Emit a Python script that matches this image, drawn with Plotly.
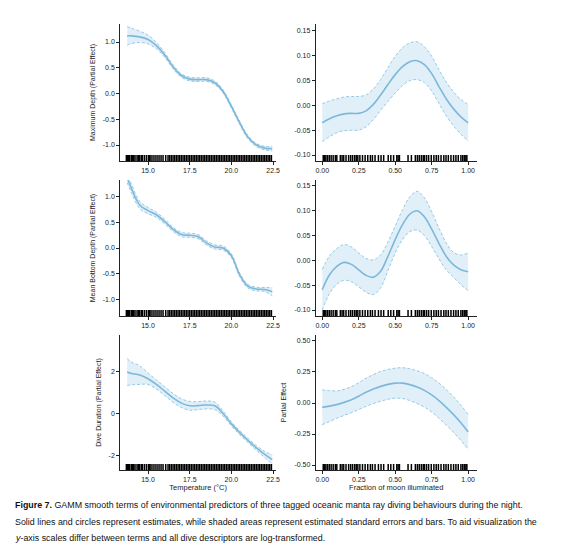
import plotly.graph_objects as go

# ---- data ----
temperature = [13.75, 14.0, 14.5, 15.0, 15.5, 16.0, 16.5, 17.0, 17.5, 18.0,
               18.5, 19.0, 19.5, 20.0, 20.5, 21.0, 21.5, 22.0, 22.45]

max_depth_temp_fit = [1.12, 1.12, 1.10, 1.05, 0.93, 0.75, 0.52, 0.35, 0.28, 0.27,
                      0.27, 0.21, 0.04, -0.25, -0.57, -0.85, -1.00, -1.06, -1.07]
max_depth_temp_se = [0.18, 0.15, 0.11, 0.085, 0.06, 0.045, 0.04, 0.035, 0.035, 0.035,
                     0.035, 0.035, 0.03, 0.03, 0.03, 0.03, 0.03, 0.035, 0.045]

bottom_depth_temp_fit = [1.36, 1.15, 0.83, 0.72, 0.64, 0.51, 0.36, 0.26, 0.245, 0.22,
                         0.10, 0.02, 0.0, -0.15, -0.52, -0.74, -0.79, -0.80, -0.845]
bottom_depth_temp_se = [0.10, 0.085, 0.07, 0.06, 0.05, 0.045, 0.04, 0.04, 0.04, 0.04,
                        0.04, 0.04, 0.04, 0.035, 0.035, 0.035, 0.035, 0.04, 0.08]

duration_temp_fit = [2.0, 1.93, 1.85, 1.67, 1.40, 1.08, 0.75, 0.50, 0.37, 0.38,
                     0.41, 0.37, 0.0, -0.50, -0.92, -1.30, -1.66, -1.97, -2.22]
duration_temp_se = [0.65, 0.55, 0.45, 0.27, 0.22, 0.21, 0.21, 0.21, 0.21, 0.19,
                    0.19, 0.18, 0.12, 0.10, 0.10, 0.10, 0.11, 0.15, 0.22]

moon = [0.0, 0.05, 0.10, 0.15, 0.20, 0.25, 0.30, 0.35, 0.40, 0.45, 0.50,
        0.55, 0.60, 0.65, 0.70, 0.75, 0.80, 0.85, 0.90, 0.95, 1.0]

max_depth_moon_fit = [-0.035, -0.027, -0.021, -0.017, -0.016, -0.016, -0.011, 0.002, 0.021, 0.042, 0.062,
                      0.078, 0.088, 0.090, 0.082, 0.064, 0.038, 0.013, -0.007, -0.023, -0.035]
max_depth_moon_se = [0.038, 0.036, 0.034, 0.034, 0.034, 0.034, 0.032, 0.031, 0.031, 0.034, 0.037,
                     0.038, 0.038, 0.038, 0.036, 0.035, 0.034, 0.034, 0.034, 0.035, 0.037]

bottom_depth_moon_fit = [-0.059, -0.029, -0.012, -0.004, -0.008, -0.019, -0.030, -0.034, -0.022, 0.008, 0.042,
                         0.072, 0.093, 0.100, 0.088, 0.063, 0.034, 0.008, -0.009, -0.019, -0.023]
bottom_depth_moon_se = [0.041, 0.038, 0.036, 0.036, 0.035, 0.034, 0.034, 0.035, 0.033, 0.029, 0.027,
                        0.030, 0.035, 0.039, 0.038, 0.035, 0.031, 0.027, 0.025, 0.030, 0.038]

duration_moon_fit = [-0.035, -0.025, -0.013, 0.005, 0.027, 0.055, 0.086, 0.112, 0.134, 0.150, 0.160,
                     0.160, 0.148, 0.128, 0.102, 0.065, 0.019, -0.035, -0.094, -0.160, -0.234]
duration_moon_se = [0.14, 0.125, 0.11, 0.105, 0.105, 0.108, 0.113, 0.117, 0.12, 0.12, 0.121,
                    0.124, 0.128, 0.132, 0.135, 0.138, 0.142, 0.143, 0.143, 0.142, 0.14]

temperature_rug = [13.70, 13.76, 13.82, 13.90, 14.00, 14.06, 14.14, 14.22, 14.34, 14.42,
                   14.50, 14.60, 14.66, 14.78, 14.90, 15.02, 15.10, 15.18, 15.30, 15.42,
                   15.54, 15.66, 15.78, 15.90, 16.06, 16.20, 16.30, 16.40, 16.50, 16.60,
                   16.70, 16.80, 16.90, 17.00, 17.10, 17.20, 17.30, 17.40, 17.50, 17.60,
                   17.70, 17.80, 17.90, 18.00, 18.10, 18.20, 18.30, 18.40, 18.50, 18.60,
                   18.70, 18.80, 18.90, 19.00, 19.10, 19.20, 19.30, 19.40, 19.50, 19.60,
                   19.70, 19.80, 19.90, 20.00, 20.10, 20.20, 20.30, 20.40, 20.50, 20.60,
                   20.70, 20.80, 20.90, 21.00, 21.10, 21.20, 21.30, 21.40, 21.50, 21.60,
                   21.70, 21.80, 21.90, 22.00, 22.10, 22.20, 22.30, 22.40]

moon_rug = [0.007, 0.016, 0.025, 0.036, 0.048, 0.061, 0.075, 0.090, 0.100, 0.124,
            0.136, 0.147, 0.163, 0.181, 0.195, 0.208, 0.222, 0.233, 0.244, 0.258,
            0.276, 0.294, 0.312, 0.330, 0.344, 0.362, 0.385, 0.403, 0.421, 0.452,
            0.470, 0.489, 0.511, 0.520, 0.529, 0.588, 0.611, 0.638, 0.652, 0.665,
            0.679, 0.692, 0.701, 0.715, 0.729, 0.747, 0.765, 0.781, 0.796, 0.814,
            0.833, 0.848, 0.864, 0.882, 0.900, 0.916, 0.932, 0.950, 0.962, 0.973,
            0.984, 0.991]

temp_ticks = [15.0, 17.5, 20.0, 22.5]
temp_tick_text = ["15.0", "17.5", "20.0", "22.5"]
moon_ticks = [0.0, 0.25, 0.5, 0.75, 1.0]
moon_tick_text = ["0.00", "0.25", "0.50", "0.75", "1.00"]

depth_ticks = [1.0, 0.5, 0.0, -0.5, -1.0]
depth_tick_text = ["1.0", "0.5", "0.0", "-0.5", "-1.0"]
small_ticks = [0.15, 0.10, 0.05, 0.0, -0.05, -0.10]
small_tick_text = ["0.15", "0.10", "0.05", "0.00", "-0.05", "-0.10"]
duration_ticks = [2, 0, -2]
duration_tick_text = ["2", "0", "-2"]
partial_ticks = [0.5, 0.25, 0.0, -0.25, -0.5]
partial_tick_text = ["0.50", "0.25", "0.00", "-0.25", "-0.50"]

# ---- layout in pixels ----
W, H = 563, 547
rows_px = [(16, 153), (172, 308), (327, 462)]
cols_px = [(113, 270), (310, 472)]

LINE = "#7db8da"
EDGE = "#8cc3e1"
FILL = "rgba(200,228,242,0.55)"
FONT = "Liberation Sans, Arial, sans-serif"


def xdom(c):
    return [cols_px[c][0] / W, cols_px[c][1] / W]


def ydom(r):
    return [1 - rows_px[r][1] / H, 1 - rows_px[r][0] / H]


panels = [
    # row, col, x, fit, se, yrange, yticks, yticktext, ytitle
    (0, 0, temperature, max_depth_temp_fit, max_depth_temp_se, [-1.31, 1.35], depth_ticks, depth_tick_text,
     "Maximum Depth (Partial Effect)"),
    (0, 1, moon, max_depth_moon_fit, max_depth_moon_se, [-0.112, 0.164], small_ticks, small_tick_text, ""),
    (1, 0, temperature, bottom_depth_temp_fit, bottom_depth_temp_se, [-1.31, 1.31], depth_ticks, depth_tick_text,
     "Mean Bottom Depth (Partial Effect)"),
    (1, 1, moon, bottom_depth_moon_fit, bottom_depth_moon_se, [-0.112, 0.162], small_ticks, small_tick_text, ""),
    (2, 0, temperature, duration_temp_fit, duration_temp_se, [-2.72, 3.78], duration_ticks, duration_tick_text,
     "Dive Duration (Partial Effect)"),
    (2, 1, moon, duration_moon_fit, duration_moon_se, [-0.54, 0.548], partial_ticks, partial_tick_text,
     "Partial Effect"),
]

fig = go.Figure()
shapes = []
layout = {}

for i, (r, c, xs, fit, se, yrange, yt, ytt, ytitle) in enumerate(panels):
    n = i + 1
    xa = "x" if n == 1 else f"x{n}"
    ya = "y" if n == 1 else f"y{n}"
    lower = [f - s for f, s in zip(fit, se)]
    upper = [f + s for f, s in zip(fit, se)]

    fig.add_trace(go.Scatter(x=xs, y=lower, mode="lines", xaxis=xa, yaxis=ya,
                             line=dict(color=EDGE, width=0.9, dash="3px,2px", shape="spline"),
                             hoverinfo="skip", showlegend=False))
    fig.add_trace(go.Scatter(x=xs, y=upper, mode="lines", xaxis=xa, yaxis=ya, fill="tonexty",
                             fillcolor=FILL,
                             line=dict(color=EDGE, width=0.9, dash="3px,2px", shape="spline"),
                             hoverinfo="skip", showlegend=False))
    fig.add_trace(go.Scatter(x=xs, y=fit, mode="lines", xaxis=xa, yaxis=ya,
                             line=dict(color=LINE, width=1.6, shape="spline"),
                             showlegend=False))

    # rug of observations along the bottom axis
    rug = temperature_rug if c == 0 else moon_rug
    rug_h = 6 / (rows_px[r][1] - rows_px[r][0])
    for v in rug:
        shapes.append(dict(type="line", xref=xa, yref=f"{ya} domain", x0=v, x1=v, y0=0, y1=rug_h,
                           line=dict(color="#000000", width=1.5)))

    axis_common = dict(showline=True, linecolor="#222222", linewidth=1, ticks="outside", ticklen=3,
                       tickwidth=1, tickcolor="#222222", showgrid=False, zeroline=False,
                       tickfont=dict(family=FONT, size=7, color="#222222"))
    if c == 0:
        xr, xt, xtt, xtitle = [13.33, 22.68], temp_ticks, temp_tick_text, "Temperature (°C)"
    else:
        xr, xt, xtt, xtitle = [-0.044, 1.058], moon_ticks, moon_tick_text, "Fraction of moon illuminated"
    layout["xaxis" if n == 1 else f"xaxis{n}"] = dict(
        axis_common, domain=xdom(c), range=xr, tickvals=xt, ticktext=xtt, anchor=ya,
        title=dict(text=xtitle if r == 2 else "", font=dict(family=FONT, size=7.5, color="#222222"),
                   standoff=2))
    layout["yaxis" if n == 1 else f"yaxis{n}"] = dict(
        axis_common, domain=ydom(r), range=yrange, tickvals=yt, ticktext=ytt, anchor=xa,
        title=dict(text=ytitle, font=dict(family=FONT, size=7, color="#222222"), standoff=6))

caption_lines = [
    "<b>Figure 7.</b> GAMM smooth terms of environmental predictors of three tagged oceanic manta ray diving behaviours during the night.",
    "Solid lines and circles represent estimates, while shaded areas represent estimated standard errors and bars. To aid visualization the",
    "<i>y</i>-axis scales differ between terms and all dive descriptors are log-transformed.",
]
caption_y_px = [497, 514, 530]
annotations = []
for txt, ypx in zip(caption_lines, caption_y_px):
    annotations.append(dict(text=txt, xref="paper", yref="paper", x=5 / W, y=1 - ypx / H,
                            xanchor="left", yanchor="middle", showarrow=False,
                            font=dict(family=FONT, size=8.9, color="#111111")))

fig.update_layout(layout)
fig.update_layout(width=W, height=H, margin=dict(l=0, r=0, t=0, b=0),
                  paper_bgcolor="white", plot_bgcolor="white",
                  shapes=shapes, annotations=annotations)

fig.write_html("out.html")
